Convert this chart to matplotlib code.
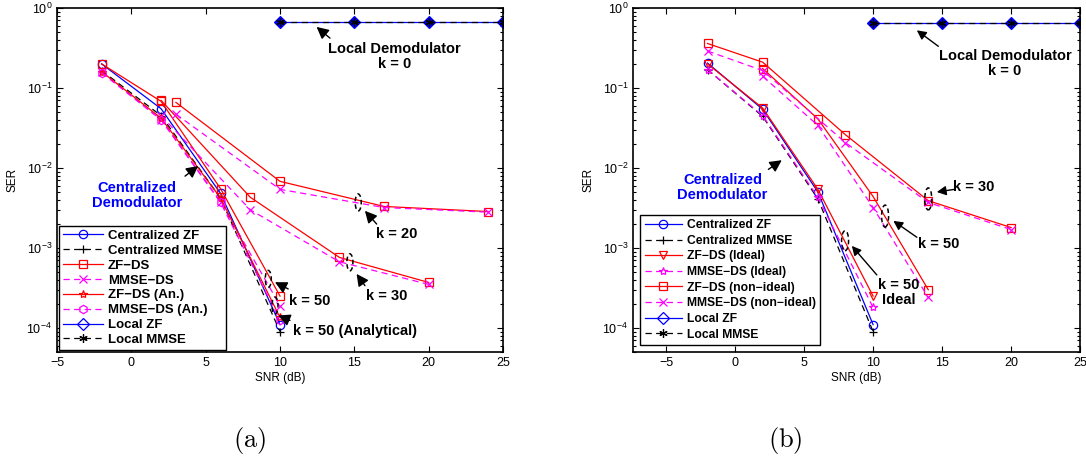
import numpy as np
import matplotlib
matplotlib.use("Agg")
import matplotlib.pyplot as plt
from matplotlib.patches import Ellipse
from matplotlib.lines import Line2D
import matplotlib.transforms as mtransforms

plt.rcParams["font.family"] = ["Liberation Sans", "DejaVu Sans"]
plt.rcParams["mathtext.fontset"] = "custom"
plt.rcParams["mathtext.rm"] = "Liberation Sans"
plt.rcParams["mathtext.it"] = "Liberation Sans:italic"
plt.rcParams["mathtext.bf"] = "Liberation Sans:bold"

# ---------------- data: (a) ----------------
snr_cent = [-2, 2, 6, 10]
ser_cent_zf = [0.2, 0.055, 0.0048, 1.1e-4]
ser_cent_mmse = [0.165, 0.045, 0.0042, 9e-5]

snr_k20 = [3, 10, 17, 24]
ser_zfds_k20 = [0.066, 0.0068, 0.0033, 0.00285]
ser_mmseds_k20 = [0.047, 0.0054, 0.0032, 0.0028]

snr_k30 = [2, 8, 14, 20]
ser_zfds_k30 = [0.07, 0.0043, 7.6e-4, 3.7e-4]
ser_mmseds_k30 = [0.045, 0.003, 6.7e-4, 3.5e-4]

snr_k50 = [-2, 2, 6, 10]
ser_zfds_k50 = [0.2, 0.068, 0.0055, 2.5e-4]
ser_mmseds_k50 = [0.16, 0.04, 0.0038, 1.9e-4]
ser_zfds_an = [0.16, 0.042, 0.0042, 1.35e-4]
ser_mmseds_an = [0.155, 0.04, 0.0037, 1.25e-4]

snr_local = [10, 15, 20, 25]
ser_local_zf = [0.66, 0.66, 0.66, 0.66]
ser_local_mmse = [0.66, 0.66, 0.66, 0.66]

# ---------------- data: (b) ----------------
b_snr_cent = [-2, 2, 6, 10]
b_cent_zf = [0.205, 0.054, 0.005, 1.1e-4]
b_cent_mmse = [0.17, 0.044, 0.0041, 9e-5]
b_zfds_ideal = [0.2, 0.056, 0.0054, 2.5e-4]
b_mmseds_ideal = [0.17, 0.045, 0.0043, 1.8e-4]

b_snr_k30 = [-2, 2, 8, 14, 20]
b_zfds_k30 = [0.36, 0.21, 0.026, 0.0039, 0.0018]
b_mmseds_k30 = [0.29, 0.165, 0.0207, 0.0037, 0.0017]

b_snr_k50 = [2, 6, 10, 14]
b_zfds_k50 = [0.175, 0.041, 0.0044, 3.0e-4]
b_mmseds_k50 = [0.14, 0.034, 0.0032, 2.4e-4]

b_snr_local = [10, 15, 20, 25]
b_local_zf = [0.65, 0.65, 0.65, 0.65]
b_local_mmse = [0.65, 0.65, 0.65, 0.65]

BLUE, RED, MAG, BLK = "#0000ff", "#ff0000", "#ff00ff", "#000000"
DASH = (0, (5, 3.5))
LW, MS, MEW = 0.9, 6, 0.9


def style(color, ls, marker, fill=False):
    return dict(color=color, ls=ls, lw=LW, marker=marker, ms=MS, mew=MEW,
                mfc=color if fill else "none", mec=color)


def setup_axes(ax, xmin):
    ax.set_yscale("log")
    ax.set_xlim(xmin, 25)
    ax.set_ylim(5e-5, 1)
    ax.set_xticks([-5, 0, 5, 10, 15, 20, 25])
    ax.set_yticks([1e-4, 1e-3, 1e-2, 1e-1, 1])
    ax.tick_params(which="both", direction="in", top=True, right=True,
                   labelsize=9, width=0.8)
    ax.tick_params(which="major", length=4.5)
    ax.tick_params(which="minor", length=2.5)
    for s in ax.spines.values():
        s.set_linewidth(1.2)
    ax.set_xlabel("SNR (dB)", fontsize=8.5, labelpad=2)
    ax.set_ylabel("SER", fontsize=8.5, labelpad=6)


def ring(ax, x, y, w=0.06, h=0.17):
    # dashed ellipse drawn in inches around a data point
    tr = ax.figure.dpi_scale_trans + mtransforms.ScaledTranslation(x, y, ax.transData)
    ax.add_patch(Ellipse((0, 0), w, h, transform=tr, fill=False, ec="k",
                         lw=1.1, ls=(0, (3, 2)), zorder=5))


def arrow(ax, head, tail, scale=13, lw=1.0):
    ax.annotate("", xy=head, xytext=tail,
                arrowprops=dict(arrowstyle="-|>,head_length=0.55,head_width=0.28",
                                color="k", lw=lw, mutation_scale=scale,
                                shrinkA=0, shrinkB=0), zorder=6)


def label(ax, x, y, s, color="k", size=10.5):
    ax.text(x, y, s, ha="center", va="center", fontsize=size,
            fontweight="bold", color=color, linespacing=1.1, zorder=6)


fig = plt.figure(figsize=(10.86, 4.68), dpi=100)
ax1 = fig.add_axes([0.0525, 0.2479, 0.4107, 0.735])
ax2 = fig.add_axes([0.5829, 0.2479, 0.4116, 0.735])

# ---------------- (a) ----------------
ax1.plot(snr_cent, ser_cent_zf, **style(BLUE, "-", "o"))
ax1.plot(snr_cent, ser_cent_mmse, **style(BLK, DASH, "+"))
for x, y in [(snr_k20, ser_zfds_k20), (snr_k30, ser_zfds_k30), (snr_k50, ser_zfds_k50)]:
    ax1.plot(x, y, **style(RED, "-", "s"))
for x, y in [(snr_k20, ser_mmseds_k20), (snr_k30, ser_mmseds_k30), (snr_k50, ser_mmseds_k50)]:
    ax1.plot(x, y, **style(MAG, DASH, "x"))
ax1.plot(snr_k50, ser_zfds_an, **style(RED, "-", "*"))
ax1.plot(snr_k50, ser_mmseds_an, **style(MAG, DASH, "h"))
ax1.plot(snr_local, ser_local_zf, **style(BLUE, "-", "D", fill=True))
ax1.plot(snr_local, ser_local_mmse, **style(BLK, DASH, (6, 2, 0), fill=True))
setup_axes(ax1, -5)

h1 = [Line2D([], [], **style(BLUE, "-", "o")),
      Line2D([], [], **style(BLK, DASH, "+")),
      Line2D([], [], **style(RED, "-", "s")),
      Line2D([], [], **style(MAG, DASH, "x")),
      Line2D([], [], **style(RED, "-", "*")),
      Line2D([], [], **style(MAG, DASH, "h")),
      Line2D([], [], **style(BLUE, "-", "D")),
      Line2D([], [], **style(BLK, DASH, (6, 2, 0), fill=True))]
l1 = ["Centralized ZF", "Centralized MMSE", "ZF\u2212DS", "MMSE\u2212DS",
      "ZF\u2212DS (An.)", "MMSE\u2212DS (An.)", "Local ZF", "Local MMSE"]
leg = ax1.legend(h1, l1, loc="lower left", bbox_to_anchor=(0, 0), borderaxespad=0.15,
                 fancybox=False, framealpha=1, edgecolor="k", handlelength=3.0,
                 handletextpad=0.4, labelspacing=0.2, borderpad=0.3,
                 prop=dict(size=9.5, weight="bold"))
leg.get_frame().set_linewidth(1.0)

label(ax1, 17.7, 0.25, "Local Demodulator\nk = 0")
arrow(ax1, (12.46, 0.58), (13.36, 0.42))
label(ax1, 0.4, 0.0045, "Centralized\nDemodulator", color=BLUE)
arrow(ax1, (4.5, 0.0106), (3.61, 0.0079))
label(ax1, 17.84, 0.00149, "k = 20")
arrow(ax1, (15.71, 0.00291), (16.5, 0.00199))
ring(ax1, 15.26, 0.0037)
label(ax1, 17.17, 2.54e-4, "k = 30")
arrow(ax1, (15.15, 4.73e-4), (15.71, 3.38e-4))
ring(ax1, 14.7, 6.6e-4)
label(ax1, 11.99, 2.2e-4, "k = 50")
arrow(ax1, (9.66, 3.73e-4), (10.55, 3.07e-4))
ring(ax1, 9.21, 4.1e-4)
label(ax1, 15.07, 9.1e-5, "k = 50 (Analytical)")
arrow(ax1, (9.88, 1.43e-4), (10.67, 1.24e-4))
ring(ax1, 9.66, 1.9e-4)

# ---------------- (b) ----------------
ax2.plot(b_snr_cent, b_cent_zf, **style(BLUE, "-", "o"))
ax2.plot(b_snr_cent, b_cent_mmse, **style(BLK, DASH, "+"))
ax2.plot(b_snr_cent, b_zfds_ideal, **style(RED, "-", "v"))
ax2.plot(b_snr_cent, b_mmseds_ideal, **style(MAG, DASH, "*"))
ax2.plot(b_snr_k30, b_zfds_k30, **style(RED, "-", "s"))
ax2.plot(b_snr_k50, b_zfds_k50, **style(RED, "-", "s"))
ax2.plot(b_snr_k30, b_mmseds_k30, **style(MAG, DASH, "x"))
ax2.plot(b_snr_k50, b_mmseds_k50, **style(MAG, DASH, "x"))
ax2.plot(b_snr_local, b_local_zf, **style(BLUE, "-", "D", fill=True))
ax2.plot(b_snr_local, b_local_mmse, **style(BLK, DASH, (6, 2, 0), fill=True))
setup_axes(ax2, -7.4)

h2 = [Line2D([], [], **style(BLUE, "-", "o")),
      Line2D([], [], **style(BLK, DASH, "+")),
      Line2D([], [], **style(RED, "-", "v")),
      Line2D([], [], **style(MAG, DASH, "*")),
      Line2D([], [], **style(RED, "-", "s")),
      Line2D([], [], **style(MAG, DASH, "x")),
      Line2D([], [], **style(BLUE, "-", "D")),
      Line2D([], [], **style(BLK, DASH, (6, 2, 0), fill=True))]
l2 = ["Centralized ZF", "Centralized MMSE", "ZF\u2212DS (Ideal)", "MMSE\u2212DS (Ideal)",
      "ZF\u2212DS (non\u2212ideal)", "MMSE\u2212DS (non\u2212ideal)", "Local ZF", "Local MMSE"]
leg = ax2.legend(h2, l2, loc="lower left", bbox_to_anchor=(0, 0), borderaxespad=0.6,
                 fancybox=False, framealpha=1, edgecolor="k", handlelength=3.1,
                 handletextpad=0.4, labelspacing=0.3, borderpad=0.35,
                 prop=dict(size=8.7, weight="bold"))
leg.get_frame().set_linewidth(1.0)

label(ax2, 19.57, 0.20, "Local Demodulator\nk = 0")
arrow(ax2, (13.17, 0.526), (14.73, 0.332), scale=10)
label(ax2, -0.92, 0.0057, "Centralized\nDemodulator", color=BLUE)
arrow(ax2, (3.38, 0.0125), (2.41, 0.0096))
label(ax2, 17.3, 0.0057, "k = 30")
arrow(ax2, (14.62, 0.005), (15.9, 0.0054), scale=10)
ring(ax2, 14.0, 0.0041, w=0.07, h=0.22)
label(ax2, 14.73, 0.00112, "k = 50")
arrow(ax2, (11.47, 0.00218), (13.17, 0.00136), scale=10)
ring(ax2, 10.87, 0.0025, w=0.07, h=0.22)
label(ax2, 11.83, 2.79e-4, "k = 50\nIdeal")
arrow(ax2, (8.46, 0.00106), (10.27, 4.6e-4), scale=10)
ring(ax2, 7.97, 0.00123, w=0.07, h=0.2)

fig.text(250 / 1086, 1 - 440 / 468, r"$\mathrm{(a)}$", ha="center", va="center",
         fontsize=19, math_fontfamily="cm")
fig.text(785 / 1086, 1 - 440 / 468, r"$\mathrm{(b)}$", ha="center", va="center",
         fontsize=19, math_fontfamily="cm")

fig.savefig("out.png", dpi=100)
